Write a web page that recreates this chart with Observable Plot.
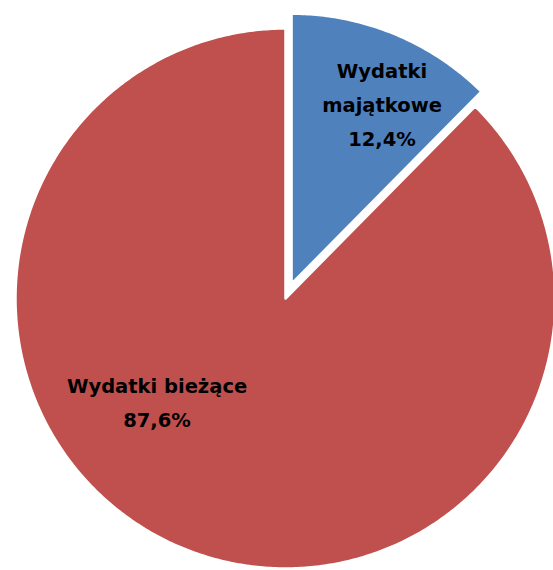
<!DOCTYPE html>
<html>
<head>
<meta charset="utf-8">
<script src="https://cdn.jsdelivr.net/npm/d3@7"></script>
<script src="https://cdn.jsdelivr.net/npm/@observablehq/plot@0.6"></script>
<style>
  html, body { margin: 0; padding: 0; background: #fff; overflow: hidden; }
  #chart svg { display: block; }
</style>
</head>
<body>
<div id="chart"></div>
<script>
// Data
const categories = ["Wydatki majątkowe", "Wydatki bieżące"];
const labelLines = [["Wydatki", "majątkowe"], ["Wydatki bieżące"]];
const shares = [12.4, 87.6];
const shareLabels = ["12,4%", "87,6%"];

// Styling
const colors = ["#4F81BD", "#C0504D"];
const explode = [0.0593, 0];          // radial offset (fraction of radius)
const labelRadius = [0.72, 0.5];      // fraction of radius along mid-angle
const labelShift = [[16.6, -2.6], [-77.2, -24.1]]; // pixel nudge

const arcs = d3.pie().sort(null).value(d => d)(shares);

// Build slice outlines from the pie angles
const polys = [];
arcs.forEach((a, i) => {
  const mid = (a.startAngle + a.endAngle) / 2;
  const ox = explode[i] * Math.sin(mid), oy = explode[i] * Math.cos(mid);
  polys.push({slice: i, x: ox, y: oy});
  const n = Math.max(8, Math.ceil((a.endAngle - a.startAngle) / 0.01));
  for (let k = 0; k <= n; k++) {
    const t = a.startAngle + (a.endAngle - a.startAngle) * k / n;
    polys.push({slice: i, x: ox + Math.sin(t), y: oy + Math.cos(t)});
  }
});

const labels = arcs.map((a, i) => {
  const mid = (a.startAngle + a.endAngle) / 2;
  const ox = explode[i] * Math.sin(mid), oy = explode[i] * Math.cos(mid);
  return {
    slice: i,
    x: ox + labelRadius[i] * Math.sin(mid),
    y: oy + labelRadius[i] * Math.cos(mid),
    text: [...labelLines[i], shareLabels[i]].join("\n"),
    dx: labelShift[i][0],
    dy: labelShift[i][1]
  };
});

const chart = Plot.plot({
  width: 553,
  height: 570,
  margin: 0,
  x: {domain: [-1, 1], range: [15, 555], axis: null},
  y: {domain: [-1, 1], range: [568, 28], axis: null},
  style: {background: "#fff", overflow: "hidden"},
  marks: [
    Plot.line(polys, {
      x: "x", y: "y", z: "slice",
      fill: d => colors[d.slice],
      stroke: "white", strokeWidth: 2.5,
      curve: "linear-closed"
    }),
    ...labels.map(l => Plot.text([l], {
      x: "x", y: "y", text: "text",
      dx: l.dx, dy: l.dy,
      fontSize: 19.5, fontWeight: "bold",
      fontFamily: "DejaVu Sans",
      lineHeight: 1.74,
      fill: "#000"
    }))
  ]
});
document.getElementById("chart").append(chart);
</script>
</body>
</html>
